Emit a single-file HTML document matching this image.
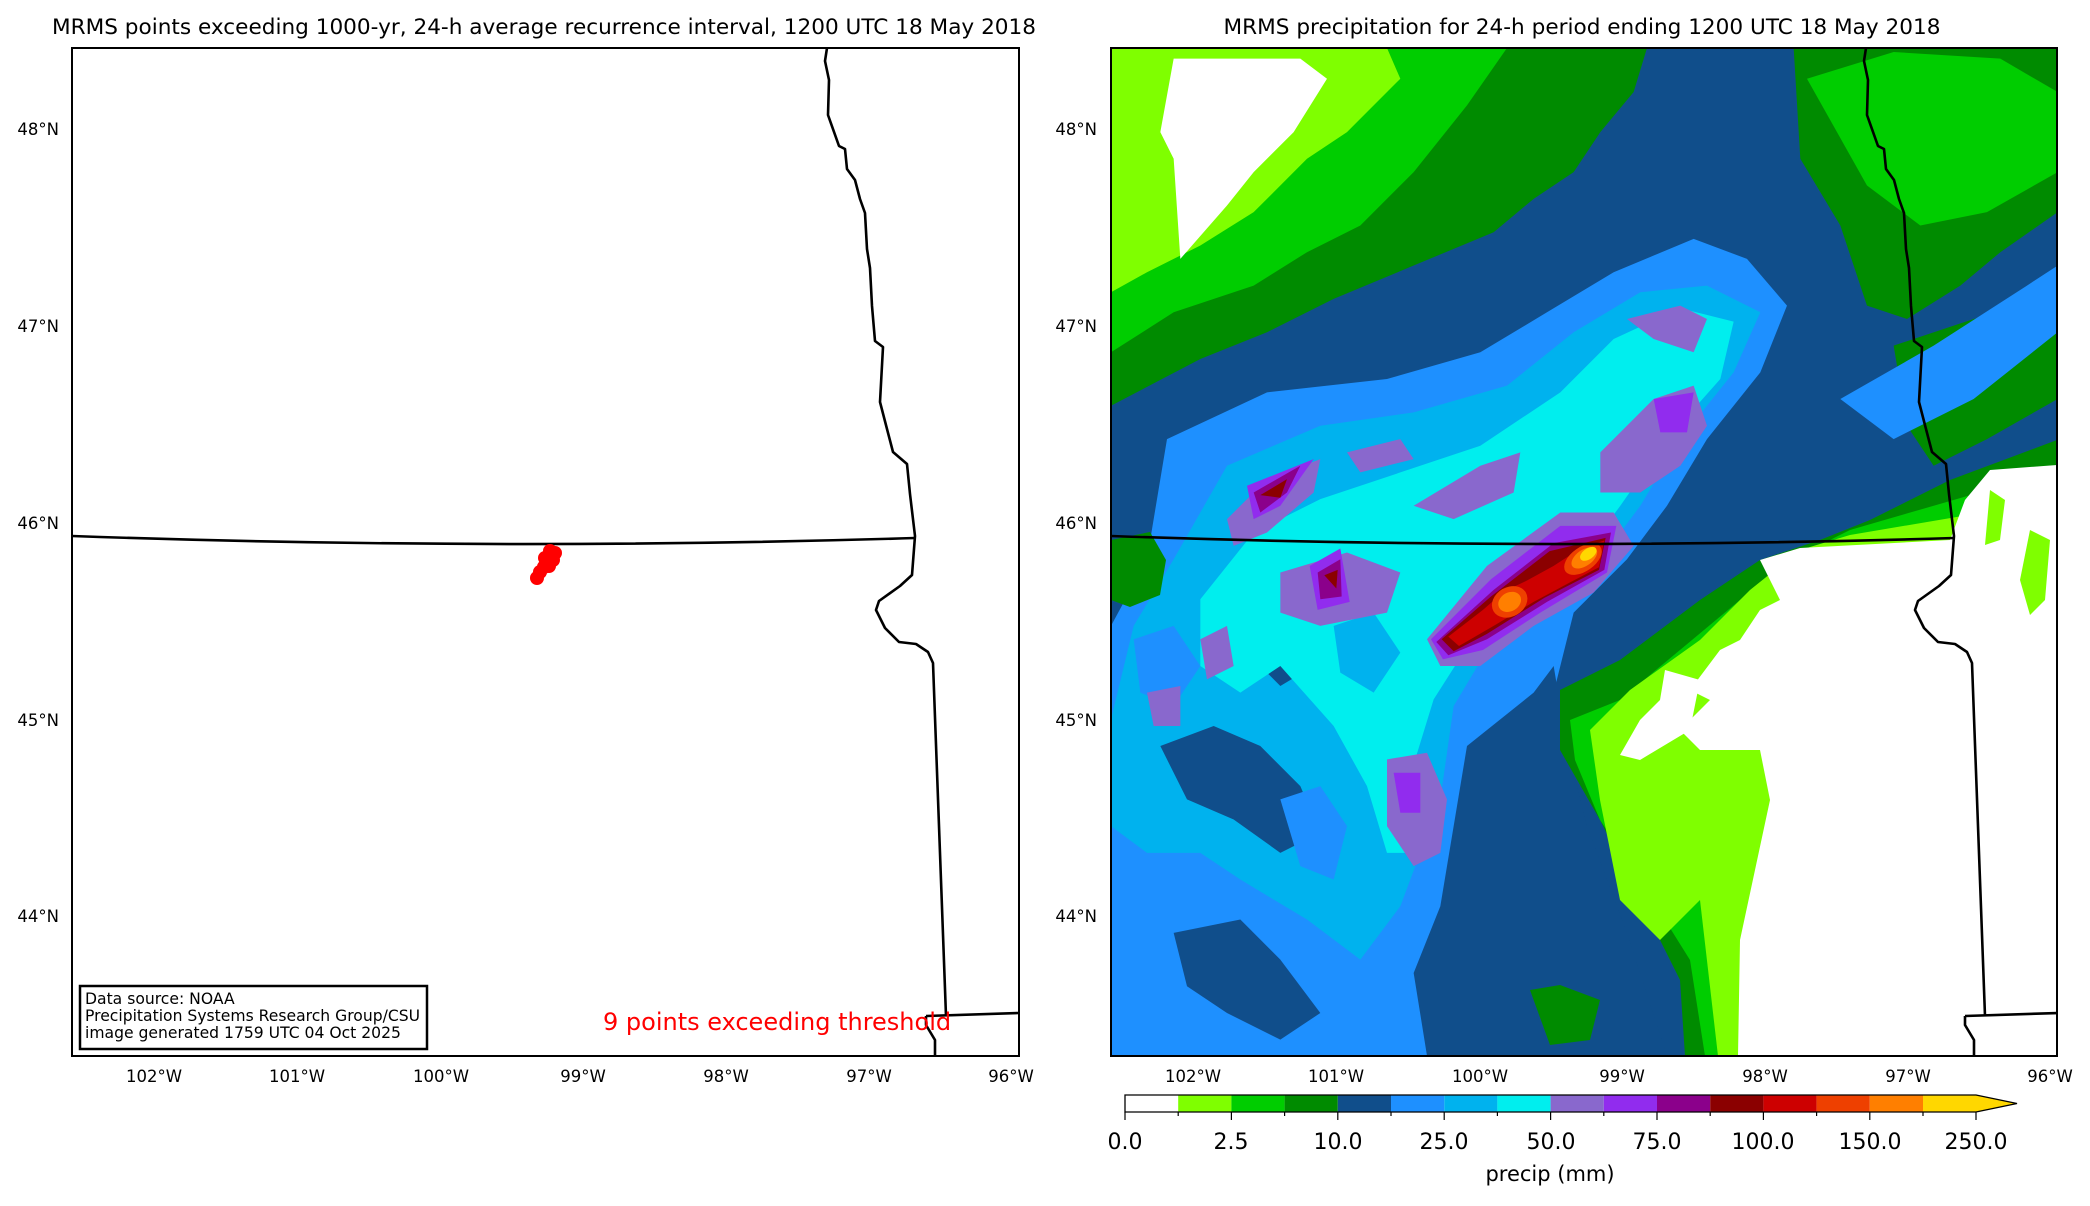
<!DOCTYPE html>
<html><head><meta charset="utf-8"><style>
html,body{margin:0;padding:0;background:#fff}
svg text{font-family:"DejaVu Sans","Liberation Sans",sans-serif}
</style></head><body>
<svg width="2090" height="1201" viewBox="0 0 2090 1201" xmlns="http://www.w3.org/2000/svg">
<defs>
<clipPath id="cl"><rect x="72" y="48" width="947" height="1008"/></clipPath>
<clipPath id="cr"><rect x="1111" y="48" width="946" height="1008"/></clipPath>
<g id="bnd" fill="none" stroke="#000" stroke-width="2.6" stroke-linejoin="round">
<path d="M72,536 Q493,551 915,538"/>
<path d="M827,48 L825,61 L829,80 L828,115 L839,146 L845,149 L847,169 L855,180 L860,199 L865,213 L867,249 L870,268 L872,306 L875,341 L883,347 L880,402 L887,429 L893,452 L907,464 L910,494 L915,536 L912,575 L900,586 L879,601 L876,610 L885,628 L899,642 L916,644 L928,652 L933,663 L946,1016"/>
<path d="M926,1016 L1019,1013"/>
<path d="M926,1016 L926,1025 L935,1040 L935,1056"/>
</g>
</defs>

<text x="544" y="34" font-size="21.6" text-anchor="middle">MRMS points exceeding 1000-yr, 24-h average recurrence interval, 1200 UTC 18 May 2018</text>
<text x="1582" y="34" font-size="21.6" text-anchor="middle">MRMS precipitation for 24-h period ending 1200 UTC 18 May 2018</text>

<g clip-path="url(#cl)">
<use href="#bnd"/>
<g fill="#ff0000">
<circle cx="550" cy="551" r="7"/><circle cx="555" cy="553" r="7"/><circle cx="553" cy="560" r="7"/>
<circle cx="548" cy="562" r="7"/><circle cx="544" cy="567" r="7"/><circle cx="540" cy="572" r="7"/>
<circle cx="537" cy="578" r="7"/><circle cx="549" cy="566" r="7"/><circle cx="545" cy="558" r="7"/>
</g>
</g>
<rect x="72" y="48" width="947" height="1008" fill="none" stroke="#000" stroke-width="2"/>
<rect x="80" y="986" width="347" height="63" fill="#fff" stroke="#000" stroke-width="2.5"/>
<text font-size="15.6" x="85"><tspan y="1004">Data source: NOAA</tspan><tspan x="85" y="1021">Precipitation Systems Research Group/CSU</tspan><tspan x="85" y="1038">image generated 1759 UTC 04 Oct 2025</tspan></text>
<text x="603" y="1030" font-size="24" fill="#ff0000">9 points exceeding threshold</text>
<g font-size="16.5" text-anchor="end">
<text x="59" y="135">48°N</text><text x="59" y="332">47°N</text><text x="59" y="529">46°N</text><text x="59" y="726">45°N</text><text x="59" y="922">44°N</text>
</g>
<g font-size="16.5" text-anchor="middle">
<text x="154" y="1082">102°W</text><text x="297" y="1082">101°W</text><text x="441" y="1082">100°W</text><text x="583" y="1082">99°W</text><text x="726" y="1082">98°W</text><text x="869" y="1082">97°W</text><text x="1011" y="1082">96°W</text>
</g>

<g clip-path="url(#cr)">
<rect x="1111" y="48" width="946" height="1008" fill="#104e8b"/>
<g transform="translate(1111,48) scale(1.3333,1.3347) translate(-833,-37)" stroke-linejoin="round">
<polygon fill="#008b00" points="833,37 1235,37 1225,70 1200,100 1180,130 1150,150 1120,175 1060,200 1000,225 950,250 900,270 833,305"/>
<polygon fill="#008b00" points="1345,37 1543,37 1543,160 1500,190 1470,215 1430,240 1400,230 1380,170 1350,120"/>
<polygon fill="#008b00" points="1420,260 1480,240 1543,220 1543,300 1490,330 1450,350 1430,320"/>
<polygon fill="#00cd00" points="833,37 1130,37 1100,80 1060,130 1020,170 980,190 940,215 880,235 833,265"/>
<polygon fill="#00cd00" points="1355,60 1420,40 1500,45 1543,70 1543,130 1490,160 1440,170 1400,140"/>
<polygon fill="#7fff00" points="833,37 1040,37 1050,60 1010,100 980,120 940,160 900,185 860,205 833,220"/>
<polygon fill="#fff" points="880,45 975,45 995,60 970,100 940,130 920,155 885,195 880,120 870,100"/>
<polygon fill="#1e90ff" points="833,470 860,420 875,330 950,295 1040,285 1110,265 1160,235 1210,205 1270,180 1310,195 1340,230 1320,280 1280,330 1250,380 1220,420 1180,460 1165,520 1170,570 1180,640 1160,700 1170,792 833,792"/>
<polygon fill="#1e90ff" points="1380,300 1450,260 1520,215 1543,200 1543,250 1480,300 1420,330"/>
<polygon fill="#104e8b" points="855,520 900,510 940,530 960,560 990,580 1000,620 960,640 930,600 880,580 860,560"/>
<polygon fill="#104e8b" points="880,700 930,690 960,720 990,760 960,780 920,760 890,740"/>
<polygon fill="#104e8b" points="1100,560 1150,520 1165,500 1175,560 1190,620 1220,700 1250,792 1070,792 1060,730 1080,680 1090,620"/>
<polygon fill="#00b2ee" points="833,540 850,470 880,420 920,350 990,320 1060,310 1130,290 1180,250 1230,220 1280,215 1320,235 1300,280 1260,330 1230,380 1200,420 1160,450 1120,480 1090,530 1080,600 1050,680 1020,720 980,690 930,660 900,640 860,640 833,620"/>
<polygon fill="#104e8b" points="870,560 910,545 945,560 975,590 990,625 960,640 925,615 890,600"/>
<polygon fill="#1e90ff" points="850,480 880,470 900,500 880,530 855,520"/>
<polygon fill="#1e90ff" points="960,600 990,590 1010,620 1000,660 975,650"/>
<polygon fill="#104e8b" points="945,470 975,465 985,500 960,515 945,500"/>
<polygon fill="#00eeee" points="900,450 940,400 990,375 1050,355 1110,335 1170,295 1210,255 1260,232 1300,242 1290,285 1250,330 1215,380 1185,420 1145,450 1105,478 1075,525 1055,590 1060,640 1040,640 1025,590 1000,545 960,500 930,520 900,500"/>
<polygon fill="#00b2ee" points="1000,470 1030,460 1050,490 1030,520 1005,505"/>
<g fill="#8968cd">
<polygon points="920,390 950,360 990,345 985,370 950,400 925,410"/>
<polygon points="960,430 1010,415 1050,430 1040,460 990,470 960,460"/>
<polygon points="1060,380 1110,350 1140,340 1135,370 1090,390"/>
<polygon points="1010,340 1050,330 1060,345 1020,355"/>
<polygon points="1200,340 1240,300 1270,290 1280,320 1260,350 1230,370 1200,370"/>
<polygon points="1220,240 1260,230 1280,240 1270,265 1240,255"/>
<polygon points="1040,570 1070,565 1085,600 1080,640 1060,650 1040,620"/>
<polygon points="1070,480 1115,425 1170,385 1210,385 1225,410 1195,445 1150,470 1110,500 1080,500"/>
<polygon points="860,520 885,515 885,545 865,545"/>
<polygon points="900,480 920,470 925,500 905,510"/>
</g>
<g fill="#912cee">
<polygon points="1073,480 1118,435 1170,395 1212,395 1205,430 1155,460 1112,488 1082,495"/>
<polygon points="935,365 985,345 960,380 940,390"/>
<polygon points="982,425 1005,412 1012,452 988,458"/>
<polygon points="1240,300 1270,295 1265,325 1245,325"/>
<polygon points="1045,580 1065,580 1065,610 1050,610"/>
</g>
<g fill="#8b008b">
<polygon points="1077,482 1120,443 1165,408 1208,400 1203,428 1160,452 1115,480 1086,492"/>
<polygon points="940,370 975,350 965,370 945,385"/>
<polygon points="988,430 1005,420 1006,448 990,450"/>
</g>
<polygon fill="#8b0000" points="1081,480 1118,448 1162,414 1204,404 1199,428 1158,449 1115,476 1090,489"/>
<polygon fill="#8b0000" points="945,372 965,360 960,374"/>
<polygon fill="#8b0000" points="993,432 1003,428 1002,442"/>
<polygon fill="#cd0000" points="1086,478 1112,458 1128,444 1145,436 1165,425 1185,412 1203,406 1199,426 1178,437 1150,452 1120,470 1094,485"/>
<ellipse cx="1132" cy="452" rx="14" ry="11" fill="#ee4000" transform="rotate(-30 1132 452)"/>
<ellipse cx="1187" cy="420" rx="16" ry="9" fill="#ee4000" transform="rotate(-35 1187 420)"/>
<ellipse cx="1132" cy="452" rx="9" ry="7" fill="#ff7f00" transform="rotate(-30 1132 452)"/>
<ellipse cx="1188" cy="419" rx="11" ry="6" fill="#ff7f00" transform="rotate(-35 1188 419)"/>
<ellipse cx="1191" cy="416" rx="7" ry="4" fill="#ffd700" transform="rotate(-35 1191 416)"/>
</g>
<polygon fill="#008b00" points="1111,540 1150,532 1166,560 1160,595 1130,607 1111,600"/>
<polygon fill="#008b00" points="1560,690 1620,660 1700,600 1760,560 1820,540 1870,520 1950,480 2057,440 2057,1056 1685,1056 1680,980 1600,820 1560,750"/>
<polygon fill="#00cd00" points="1570,720 1620,700 1680,650 1740,600 1790,560 1850,530 2057,470 2057,1056 1705,1056 1690,960 1640,880 1600,820 1575,760"/>
<polygon fill="#7fff00" points="1590,730 1630,690 1700,640 1750,590 1800,550 1850,535 2057,500 2057,1056 1718,1056 1700,900 1660,940 1620,900 1600,800"/>
<polygon fill="#fff" points="1760,560 1800,548 1950,540 1965,500 1990,470 2057,465 2057,1056 1738,1056 1740,940 1770,800 1760,750 1700,750 1680,730 1710,700 1690,690 1720,650 1740,640 1760,610 1780,600"/>
<polygon fill="#fff" points="1665,670 1700,680 1690,730 1640,760 1620,755 1640,720 1660,700"/>
<polygon fill="#7fff00" points="2030,530 2050,540 2045,600 2030,615 2020,580"/>
<polygon fill="#7fff00" points="1990,490 2005,500 2000,540 1985,545"/>
<polygon fill="#008b00" points="1530,990 1560,985 1600,1000 1590,1040 1550,1045"/>
<use href="#bnd" transform="translate(1039,0)"/>
</g>
<rect x="1111" y="48" width="946" height="1008" fill="none" stroke="#000" stroke-width="2"/>
<g font-size="16.5" text-anchor="end">
<text x="1097" y="135">48°N</text><text x="1097" y="332">47°N</text><text x="1097" y="529">46°N</text><text x="1097" y="726">45°N</text><text x="1097" y="922">44°N</text>
</g>
<g font-size="16.5" text-anchor="middle">
<text x="1193" y="1082">102°W</text><text x="1336" y="1082">101°W</text><text x="1480" y="1082">100°W</text><text x="1622" y="1082">99°W</text><text x="1765" y="1082">98°W</text><text x="1908" y="1082">97°W</text><text x="2050" y="1082">96°W</text>
</g>

<g>
<rect x="1125" y="1095" width="53.2" height="17" fill="#fff"/>
<rect x="1178.2" y="1095" width="53.2" height="17" fill="#7fff00"/>
<rect x="1231.4" y="1095" width="53.2" height="17" fill="#00cd00"/>
<rect x="1284.6" y="1095" width="53.2" height="17" fill="#008b00"/>
<rect x="1337.8" y="1095" width="53.2" height="17" fill="#104e8b"/>
<rect x="1391" y="1095" width="53.2" height="17" fill="#1e90ff"/>
<rect x="1444.2" y="1095" width="53.2" height="17" fill="#00b2ee"/>
<rect x="1497.4" y="1095" width="53.2" height="17" fill="#00eeee"/>
<rect x="1550.6" y="1095" width="53.2" height="17" fill="#8968cd"/>
<rect x="1603.8" y="1095" width="53.2" height="17" fill="#912cee"/>
<rect x="1657" y="1095" width="53.2" height="17" fill="#8b008b"/>
<rect x="1710.2" y="1095" width="53.2" height="17" fill="#8b0000"/>
<rect x="1763.4" y="1095" width="53.2" height="17" fill="#cd0000"/>
<rect x="1816.6" y="1095" width="53.2" height="17" fill="#ee4000"/>
<rect x="1869.8" y="1095" width="53.2" height="17" fill="#ff7f00"/>
<rect x="1923" y="1095" width="53.2" height="17" fill="#ffd700"/>
<polygon points="1976,1095 2017,1103.5 1976,1112" fill="#ffd700"/>
<polygon points="1125,1095 1976,1095 2017,1103.5 1976,1112 1125,1112" fill="none" stroke="#000" stroke-width="1.3"/>
<g stroke="#000" stroke-width="1.2">
<line x1="1125" y1="1112" x2="1125" y2="1120"/><line x1="1178.2" y1="1112" x2="1178.2" y2="1116"/>
<line x1="1231.4" y1="1112" x2="1231.4" y2="1120"/><line x1="1284.6" y1="1112" x2="1284.6" y2="1116"/>
<line x1="1337.8" y1="1112" x2="1337.8" y2="1120"/><line x1="1391" y1="1112" x2="1391" y2="1116"/>
<line x1="1444.2" y1="1112" x2="1444.2" y2="1120"/><line x1="1497.4" y1="1112" x2="1497.4" y2="1116"/>
<line x1="1550.6" y1="1112" x2="1550.6" y2="1120"/><line x1="1603.8" y1="1112" x2="1603.8" y2="1116"/>
<line x1="1657" y1="1112" x2="1657" y2="1120"/><line x1="1710.2" y1="1112" x2="1710.2" y2="1116"/>
<line x1="1763.4" y1="1112" x2="1763.4" y2="1120"/><line x1="1816.6" y1="1112" x2="1816.6" y2="1116"/>
<line x1="1869.8" y1="1112" x2="1869.8" y2="1120"/><line x1="1923" y1="1112" x2="1923" y2="1116"/>
<line x1="1976" y1="1112" x2="1976" y2="1120"/>
</g>
<g font-size="22" text-anchor="middle">
<text x="1125" y="1149">0.0</text><text x="1231" y="1149">2.5</text><text x="1338" y="1149">10.0</text><text x="1444" y="1149">25.0</text><text x="1551" y="1149">50.0</text><text x="1657" y="1149">75.0</text><text x="1763" y="1149">100.0</text><text x="1870" y="1149">150.0</text><text x="1976" y="1149">250.0</text>
</g>
<text x="1550" y="1181" font-size="21" text-anchor="middle">precip (mm)</text>
</g>
</svg>
</body></html>
